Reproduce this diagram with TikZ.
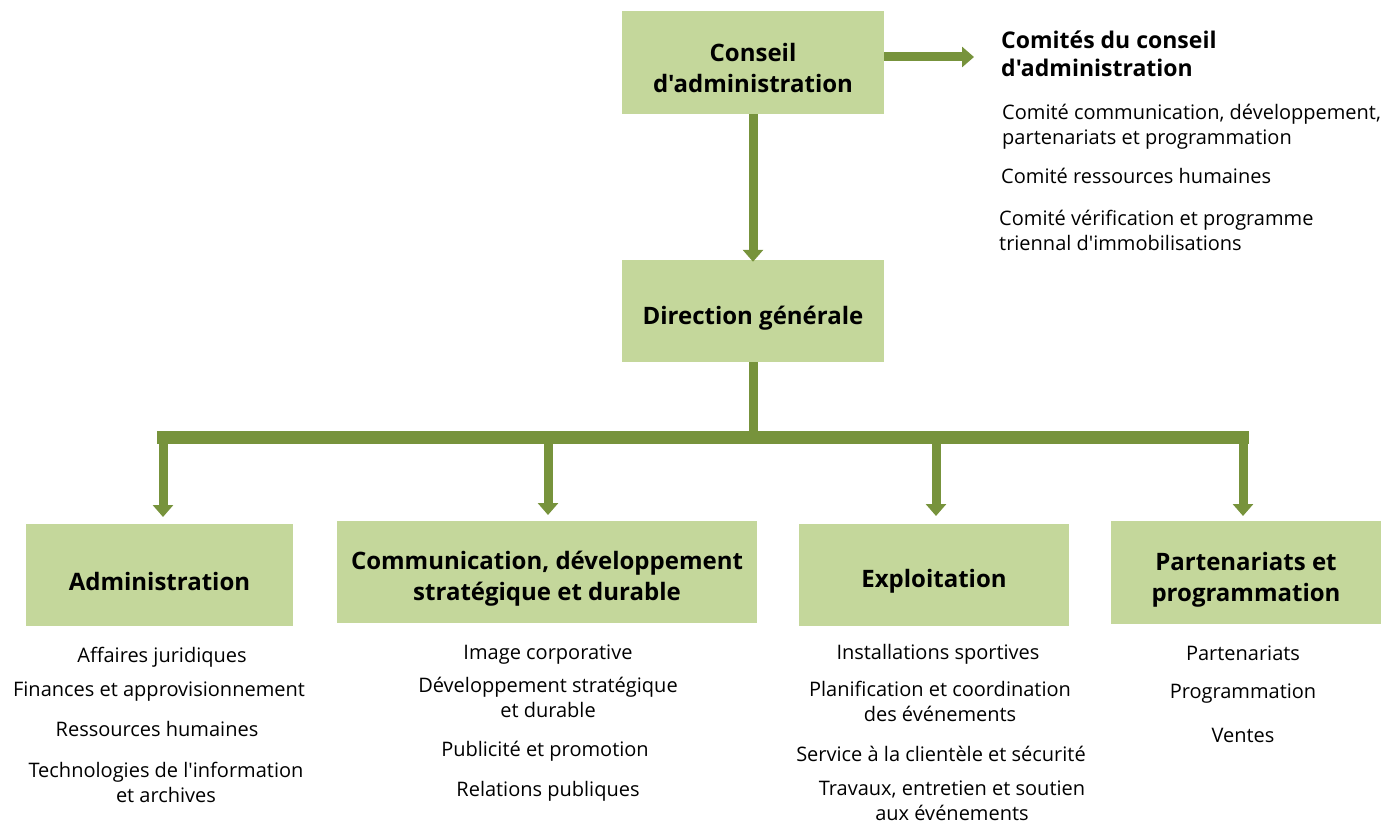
\documentclass[tikz,border=0pt]{standalone}
\usepackage{fontspec}
\setmainfont{Open Sans}[Ligatures=TeXOff]
\usetikzlibrary{arrows.meta}
\definecolor{boxfill}{HTML}{C4D79B}
\definecolor{arrowc}{HTML}{77933C}
\tikzset{
  orgbox/.style={fill=boxfill, draw=none, inner sep=0pt},
  boxtext/.style={align=center, inner sep=0pt,
    font=\fontsize{24}{31}\selectfont\bfseries},
  item/.style={align=center, inner sep=0pt, font=\fontsize{20}{25}\selectfont},
  litem/.style={align=left, anchor=west, inner sep=0pt, font=\fontsize{20}{25}\selectfont},
  conn/.style={draw=arrowc, line width=9pt, -{Triangle[length=12pt,width=20pt]}},
  bar/.style={draw=arrowc, line width=13pt},
}
\begin{document}
\begin{tikzpicture}[x=1pt,y=-1pt]
\useasboundingbox (0,0) rectangle (1388,824);
% boxes
\node[orgbox, minimum width=262pt, minimum height=103pt] (ca) at (753,62.5) {};
\node[orgbox, minimum width=262pt, minimum height=102pt] (dg) at (753,311) {};
\node[orgbox, minimum width=267pt, minimum height=102pt] (adm) at (159.5,575) {};
\node[orgbox, minimum width=420pt, minimum height=102pt] (com) at (547,572) {};
\node[orgbox, minimum width=270pt, minimum height=102pt] (exp) at (934,575) {};
\node[orgbox, minimum width=270pt, minimum height=103pt] (par) at (1246,572.5) {};
\node[boxtext] (ca-t) at ([yshift=-6pt]ca.center) {Conseil\\d'administration};
\node[boxtext] (dg-t) at ([yshift=-7pt]dg.center) {Direction générale};
\node[boxtext] (adm-t) at ([yshift=-6pt]adm.center) {Administration};
\node[boxtext] (com-t) at ([yshift=-7pt]com.center) {Communication, développement\\stratégique et durable};
\node[boxtext] (exp-t) at ([yshift=-6pt]exp.center) {Exploitation};
\node[boxtext] (par-t) at ([yshift=-7pt]par.center) {Partenariats et\\programmation};
% committees
\node[litem, font=\fontsize{23}{28}\selectfont\bfseries] (cth) at (1001,54) {Comités du conseil\\d'administration};
\coordinate (cta) at (974,57);
\node[litem] (c1) at (1002,127) {Comité communication, développement,\\partenariats et programmation};
\node[litem] (c2) at (1001,176) {Comité ressources humaines};
\node[litem] (c3) at (999,230.5) {Comité vérification et programme\\triennal d'immobilisations};
% connectors
\draw[conn] (ca.east |- cta) -- (cta);
\draw[conn] (ca.south) -- ([yshift=-2pt]dg.north);
\coordinate (bl) at (157,437);
\coordinate (br) at (1249,437);
\coordinate (bm) at (dg.south |- bl);
\draw[draw=arrowc, line width=9pt] (dg.south) -- ([yshift=6pt]bm);
\draw[bar] (bl) -- (br);
\coordinate (a1) at (163,437);
\coordinate (a2) at (548,437);
\coordinate (a3) at (936,437);
\coordinate (a4) at (1243,437);
\coordinate (t1) at (163,517);
\coordinate (t2) at (548,515);
\coordinate (t3) at (936,516);
\coordinate (t4) at (1243,516);
\draw[conn] (a1) -- (t1);
\draw[conn] (a2) -- (t2);
\draw[conn] (a3) -- (t3);
\draw[conn] (a4) -- (t4);
% administration list
\node[item] (a-1) at (162,657) {Affaires juridiques};
\node[item] (a-2) at (159,692) {Finances et approvisionnement};
\node[item] (a-3) at (157,729) {Ressources humaines};
\node[item] (a-4) at (166,782) {Technologies de l'information\\et archives};
% communication list
\node[item] (m-1) at (548,655) {Image corporative};
\node[item] (m-2) at (548,697) {Développement stratégique\\et durable};
\node[item] (m-3) at (545,751) {Publicité et promotion};
\node[item] (m-4) at (548,791) {Relations publiques};
% exploitation list
\node[item] (e-1) at (938,654) {Installations sportives};
\node[item] (e-2) at (940,701) {Planification et coordination\\des événements};
\node[item] (e-3) at (941,754) {Service à la clientèle et sécurité};
\node[item] (e-4) at (952,800.5) {Travaux, entretien et soutien\\aux événements};
% partenariats list
\node[item] (p-1) at (1243,653) {Partenariats};
\node[item] (p-2) at (1243,694) {Programmation};
\node[item] (p-3) at (1243,735) {Ventes};
\end{tikzpicture}
\end{document}
